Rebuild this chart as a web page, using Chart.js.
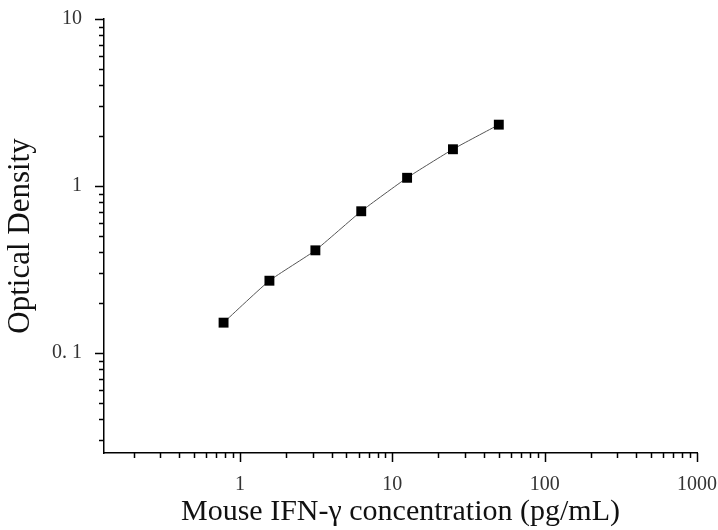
<!DOCTYPE html>
<html>
<head>
<meta charset="utf-8">
<script src="https://cdn.jsdelivr.net/npm/chart.js@4/dist/chart.umd.min.js"></script>
<style>
  html, body { margin: 0; padding: 0; background: #fff; }
  #wrap { width: 718px; height: 530px; }
</style>
</head>
<body>
<div id="wrap"><canvas id="curve"></canvas></div>
<script>
// standard curve
const concentration = [0.78, 1.56, 3.125, 6.25, 12.5, 25, 50]
const opticalDensity = [0.152, 0.271, 0.412, 0.706, 1.12, 1.66, 2.33]
const xTickValues = [1, 10, 100, 1000]
const yTickValues = [0.1, 1, 10]
const yTickLabels = ['0. 1', '1', '10']
const xMin = 0.128, xMax = 1000
const yMin = 0.0252, yMax = 10

const serif = '"Liberation Serif", "Times New Roman", serif'

// minor tick positions for each decade
function decadeTicks(min, max) {
  const out = []
  for (let e = -3; e <= 4; e++) {
    for (let m = 1; m < 10; m++) {
      const v = m * Math.pow(10, e)
      if (v >= min * 0.999 && v <= max * 1.001) out.push({ v, major: m === 1 })
    }
  }
  return out
}

const tickMarks = {
  id: 'tickMarks',
  afterDraw: chart => {
    const ctx = chart.ctx
    const xs = chart.scales.x
    const ys = chart.scales.y
    ctx.save()
    ctx.strokeStyle = '#000'
    ctx.lineWidth = 1.5
    ctx.beginPath()
    decadeTicks(yMin, yMax).forEach(t => {
      const y = Math.round(ys.getPixelForValue(t.v)) + 0.5
      ctx.moveTo(ys.right, y)
      ctx.lineTo(ys.right - (t.major ? 9 : 5), y)
    })
    decadeTicks(xMin, xMax).forEach(t => {
      const x = Math.round(xs.getPixelForValue(t.v)) + 0.5
      ctx.moveTo(x, xs.top)
      ctx.lineTo(x, xs.top + (t.major ? 9 : 5))
    })
    ctx.stroke()
    ctx.restore()
  }
}

new Chart(document.getElementById('curve'), {
  type: 'scatter',
  data: {
    datasets: [{
      data: concentration.map((c, i) => ({ x: c, y: opticalDensity[i] })),
      showLine: true,
      tension: 0.15,
      borderColor: '#555',
      borderWidth: 1,
      pointStyle: 'rect',
      pointRadius: 7,
      pointHoverRadius: 7,
      pointBackgroundColor: '#000',
      pointBorderColor: '#000',
      pointBorderWidth: 0
    }]
  },
  options: {
    responsive: true,
    maintainAspectRatio: false,
    animation: false,
    layout: { padding: { top: 19, right: 21, left: 0, bottom: 0 } },
    plugins: { legend: { display: false }, tooltip: { enabled: false } },
    scales: {
      x: {
        type: 'logarithmic',
        min: xMin,
        max: xMax,
        afterFit: s => {
          s.height = 77
          s.paddingLeft = 0
          s.paddingRight = 0
        },
        afterBuildTicks: s => { s.ticks = xTickValues.map(v => ({ value: v })) },
        grid: { display: false },
        border: { display: true, color: '#000', width: 1.5 },
        ticks: {
          autoSkip: false,
          maxRotation: 0,
          padding: 12,
          color: '#333',
          font: { family: serif, size: 20 },
          callback: v => String(v)
        },
        title: {
          display: true,
          text: 'Mouse IFN-γ concentration (pg/mL)',
          color: '#111',
          font: { family: serif, size: 30 },
          padding: { top: 0, bottom: 0 }
        }
      },
      y: {
        type: 'logarithmic',
        min: yMin,
        max: yMax,
        afterFit: s => {
          s.width = 104
          s.paddingTop = 0
          s.paddingBottom = 0
        },
        afterBuildTicks: s => { s.ticks = yTickValues.map(v => ({ value: v })) },
        grid: { display: false },
        border: { display: true, color: '#000', width: 1.5 },
        ticks: {
          autoSkip: false,
          padding: 14,
          color: '#333',
          font: { family: serif, size: 20 },
          callback: v => yTickLabels[yTickValues.indexOf(v)]
        },
        title: {
          display: true,
          text: 'Optical Density',
          color: '#111',
          font: { family: serif, size: 31 },
          padding: { top: 2, bottom: 0 }
        }
      }
    }
  },
  plugins: [tickMarks]
})
</script>
</body>
</html>
